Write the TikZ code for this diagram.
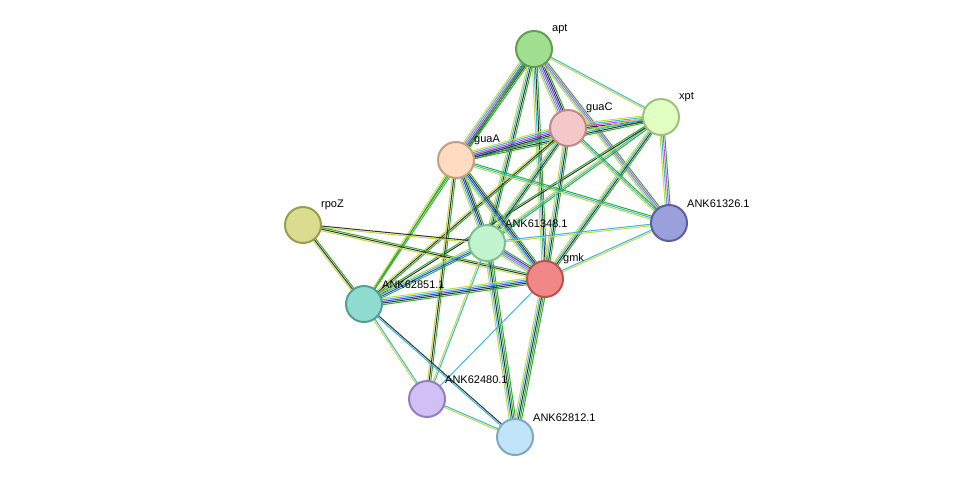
\documentclass[tikz,border=0pt]{standalone}
\usepackage{fontspec}
\setmainfont{Liberation Sans}
\usetikzlibrary{calc}
\definecolor{cy}{HTML}{33BBDD}\definecolor{yg}{HTML}{C8D840}\definecolor{gr}{HTML}{33AA33}
\definecolor{bk}{HTML}{333333}\definecolor{bl}{HTML}{3344CC}\definecolor{mg}{HTML}{DD44DD}
\newcommand\E[4]{\foreach[count=\i] \c in {#4}{\pgfmathsetmacro\o{(\i-(#3+1)/2)*1.6}
 \draw[\c,line width=1pt] ($(#1)!\o pt!90:(#2)$) -- ($(#2)!\o pt!-90:(#1)$);}}
\begin{document}
\begin{tikzpicture}[x=1pt,y=-1pt,
 nd/.style={circle,minimum size=36pt,line width=2pt,inner sep=0pt},
 lb/.style={anchor=south west,font=\fontsize{11}{13}\selectfont,inner sep=0pt}]
\useasboundingbox (0,0) rectangle (976,483);
\foreach \n/\x/\y in {apt/534/49,xpt/661/117,guaC/568/128,guaA/456/160,A326/669/223,rpoZ/303/225,A348/487/243,gmk/545/279,A851/364/304,A480/427/399,A812/515/437}
 \coordinate (\n) at (\x,\y);
\E{apt}{guaC}{6}{yg,cy,mg,bl,bk,gr}
\E{apt}{guaA}{6}{yg,cy,mg,bl,bk,gr}
\E{apt}{xpt}{2}{yg,cy}
\E{apt}{A326}{4}{yg,cy,mg,gr}
\E{apt}{A348}{4}{yg,cy,bk,gr}
\E{apt}{gmk}{4}{yg,cy,bk,gr}
\E{apt}{A851}{2}{gr,gr}
\E{xpt}{guaC}{5}{yg,cy,mg,bk,gr}
\E{xpt}{guaA}{4}{yg,cy,bk,gr}
\E{xpt}{A326}{4}{yg,cy,mg,gr}
\E{xpt}{gmk}{4}{yg,cy,bk,gr}
\E{xpt}{A348}{3}{yg,cy,gr}
\E{xpt}{A851}{2}{gr,bk}
\E{guaC}{guaA}{6}{yg,cy,mg,bl,bk,gr}
\E{guaC}{A326}{3}{yg,cy,gr}
\E{guaC}{A348}{4}{yg,cy,bk,gr}
\E{guaC}{gmk}{4}{yg,cy,bk,gr}
\E{guaC}{A851}{3}{yg,bk,gr}
\E{guaA}{A326}{3}{yg,cy,gr}
\E{guaA}{A348}{5}{yg,cy,bl,bk,gr}
\E{guaA}{gmk}{5}{yg,cy,bl,bk,gr}
\E{guaA}{A851}{2}{yg,gr}
\E{guaA}{A480}{3}{yg,bk,gr}
\E{rpoZ}{A348}{2}{yg,bk}
\E{rpoZ}{gmk}{3}{yg,bk,gr}
\E{rpoZ}{A851}{3}{yg,bk,gr}
\E{A348}{gmk}{5}{yg,cy,mg,bl,gr}
\E{A348}{A326}{2}{yg,cy}
\E{A348}{A851}{4}{yg,cy,bl,gr}
\E{A348}{A480}{2}{yg,cy}
\E{A348}{A812}{5}{yg,cy,bk,gr,gr}
\E{gmk}{A326}{2}{yg,cy}
\E{gmk}{A851}{5}{yg,cy,bl,bk,gr}
\E{gmk}{A480}{1}{cy}
\E{gmk}{A812}{5}{yg,cy,bk,gr,gr}
\E{A851}{A480}{2}{yg,cy}
\E{A851}{A812}{2}{cy,bk}
\E{A480}{A812}{2}{yg,cy}
\foreach \n/\f/\d/\t in {apt/A0E090/60A050/apt,xpt/E0FFC0/A0C080/xpt,guaC/F5C8C8/C08888/guaC,guaA/FFDCC0/C0A080/guaA,A326/9AA0DC/5A60A0/ANK61326.1,rpoZ/DCDC90/9C9C50/rpoZ,A348/C0F5D0/80C090/ANK61348.1,gmk/F08888/C05050/gmk,A851/90DCD0/50A098/ANK62851.1,A480/D0C0F5/9080C0/ANK62480.1,A812/C0E4F8/80A8C0/ANK62812.1}{
 \definecolor{fc}{HTML}{\f}\definecolor{dc}{HTML}{\d}
 \node[nd,fill=fc,draw=dc] (n\n) at (\n) {};
 \node[lb] (l\n) at ($(\n)+(18,-15)$) {\t};}
\end{tikzpicture}
\end{document}
